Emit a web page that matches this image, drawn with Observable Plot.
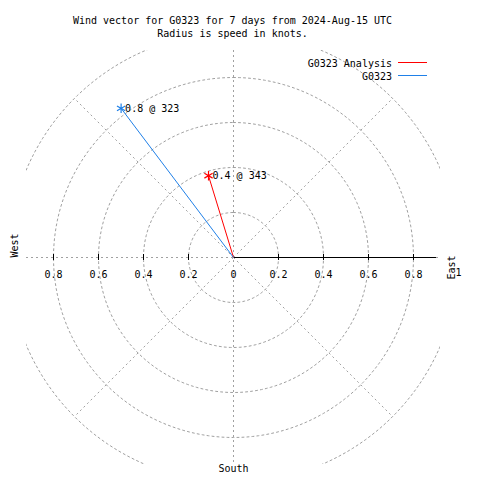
<!DOCTYPE html>
<html><head><meta charset="utf-8">
<script src="https://cdn.jsdelivr.net/npm/d3@7"></script>
<script src="https://cdn.jsdelivr.net/npm/@observablehq/plot@0.6"></script>
<style>body{margin:0;background:#fff}#chart{width:480px;height:480px}</style>
</head><body><div id="chart"></div>
<script>
// ---- data ----
const titleLines = ["Wind vector for G0323 for 7 days from 2024-Aug-15 UTC", "Radius is speed in knots."];
const seriesNames = ["G0323 Analysis", "G0323"];
const seriesColors = ["#ff0000", "#1f80e8"];
const speeds = [0.38, 0.83];          // knots
const directions = [343, 323];        // degrees, compass
const vectorLabels = ["0.4 @ 343", "0.8 @ 323"];
const gridRadii = [0.2, 0.4, 0.6, 0.8, 1.0];
const spokeAngles = [45, 135, 225, 315];
const tickValues = [-0.8, -0.6, -0.4, -0.2, 0.2, 0.4, 0.6, 0.8];
const tickLabelValues = [-0.8, -0.6, -0.4, -0.2, 0, 0.2, 0.4, 0.6, 0.8];
const tickLabelTexts = ["0.8", "0.6", "0.4", "0.2", "0", "0.2", "0.4", "0.6", "0.8"];
const outerLabelValues = [1];
const outerLabelTexts = ["1"];
const axisMax = 0.9;
const FONT = "DejaVu Sans Mono";

// ---- derived tables ----
const rad = a => a * Math.PI / 180;
const circlePts = gridRadii.flatMap(r => d3.range(0, 361, 2).map(a => ({r, x: r * Math.sin(rad(a)), y: r * Math.cos(rad(a))})));
const spokes = spokeAngles.map(a => ({x: Math.sin(rad(a)), y: Math.cos(rad(a))}));
const vectors = seriesNames.map((name, i) => ({
  name, color: seriesColors[i], label: vectorLabels[i],
  x: speeds[i] * Math.sin(rad(directions[i])),
  y: speeds[i] * Math.cos(rad(directions[i]))
}));
const tickLabels = tickLabelValues.map((v, i) => ({v, t: tickLabelTexts[i]}));
const outerLabels = outerLabelValues.map((v, i) => ({v, t: outerLabelTexts[i]}));

function legendMark(index, scales, values, dimensions) {
  const g = d3.create("svg:g").attr("font-family", FONT).attr("font-size", 10);
  const xr = dimensions.width - dimensions.marginRight;
  seriesNames.forEach((name, i) => {
    const y = dimensions.marginTop + 13 + i * 13;
    g.append("text").attr("x", xr - 48).attr("y", y).attr("text-anchor", "end")
      .attr("dy", "0.35em").attr("fill", "black").text(name);
    g.append("line").attr("x1", xr - 42).attr("x2", xr - 13).attr("y1", y - 0.5).attr("y2", y - 0.5)
      .attr("stroke", seriesColors[i]).attr("stroke-width", 1);
  });
  return g.node();
}

const grid = {stroke: "#a0a0a0", strokeWidth: 1, strokeDasharray: "2,3"};

const chart = Plot.plot({
  width: 480, height: 480,
  marginLeft: 26, marginRight: 40, marginTop: 50, marginBottom: 16,
  x: {domain: [-0.92, 0.92], axis: null},
  y: {domain: [-0.92, 0.92], axis: null},
  style: {fontFamily: FONT, fontSize: "10px", background: "white"},
  marks: [
    Plot.line(circlePts, {x: "x", y: "y", z: "r", ...grid, clip: true}),
    Plot.link(spokes, {x1: 0, y1: 0, x2: "x", y2: "y", ...grid, clip: true}),
    Plot.ruleX([0], {...grid}),
    Plot.ruleY([0], {...grid}),
    Plot.link([axisMax], {x1: 0, x2: d => d, y1: 0, y2: 0, stroke: "black", shapeRendering: "crispEdges"}),
    Plot.ruleX(tickValues, {x: d => d, y1: -0.014, y2: 0.014, stroke: "black", shapeRendering: "crispEdges"}),
    Plot.text(tickLabels, {x: "v", y: 0, text: "t", dy: 17, fill: "black"}),
    Plot.text(outerLabels, {x: "v", y: 0, text: "t", dy: 15, fill: "black"}),
    Plot.link(vectors, {x1: 0, y1: 0, x2: "x", y2: "y", stroke: "color"}),
    Plot.dot(vectors, {x: "x", y: "y", symbol: "asterisk", r: 4.5, stroke: "color", strokeWidth: 1.2}),
    Plot.text(vectors, {x: "x", y: "y", text: "label", textAnchor: "start", dx: 4, fill: "black"}),
    Plot.text(["West"], {frameAnchor: "left", dx: -12, rotate: -90, fill: "black"}),
    Plot.text(["East"], {frameAnchor: "right", dx: 11, dy: -2, rotate: -90, fill: "black"}),
    Plot.text(["South"], {frameAnchor: "bottom", dy: 7, fill: "black"}),
    Plot.text([titleLines[0]], {frameAnchor: "top", dy: -34, dx: -1, fill: "black"}),
    Plot.text([titleLines[1]], {frameAnchor: "top", dy: -21, dx: -1, fill: "black"}),
    legendMark
  ]
});
document.getElementById("chart").append(chart);
</script></body></html>
